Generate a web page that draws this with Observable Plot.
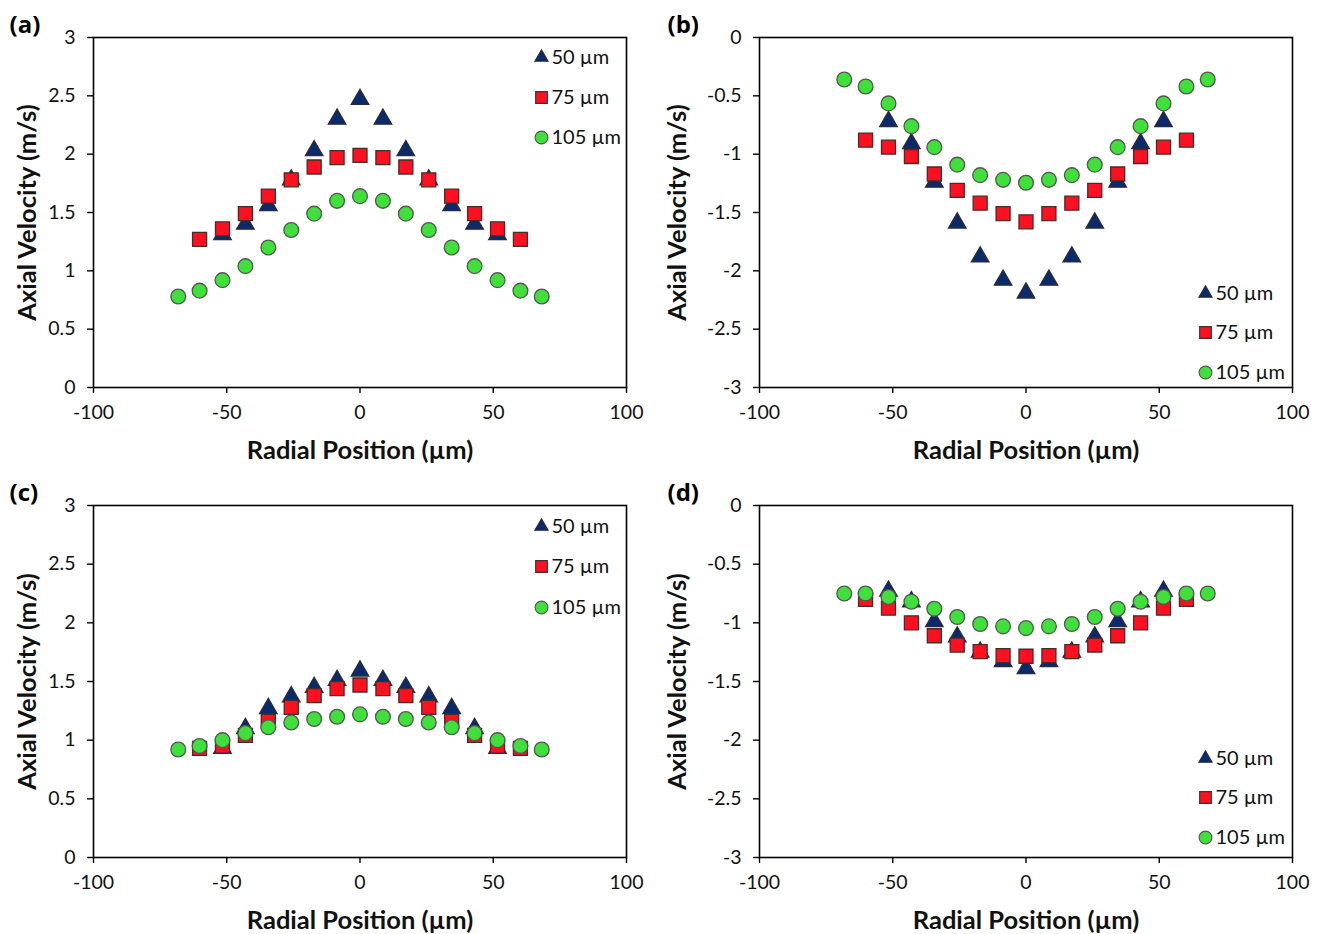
<!DOCTYPE html>
<html>
<head>
<meta charset="utf-8">
<script src="https://cdn.jsdelivr.net/npm/d3@7"></script>
<script src="https://cdn.jsdelivr.net/npm/@observablehq/plot@0.6"></script>
<style>
  html, body { margin: 0; padding: 0; background: #fff; }
  #grid { display: grid; grid-template-columns: 660px 660px; grid-template-rows: 467px 467px; width: 1320px; height: 934px; }
  #grid svg { display: block; }
</style>
</head>
<body>
<div id="grid"></div>
<script>
// Radial positions (µm) for each series
const x50  = [-51.6,-43,-34.4,-25.8,-17.2,-8.6,0,8.6,17.2,25.8,34.4,43,51.6];
const x75  = [-60.2,-51.6,-43,-34.4,-25.8,-17.2,-8.6,0,8.6,17.2,25.8,34.4,43,51.6,60.2];
const x105 = [-68.2,-60.2,-51.6,-43,-34.4,-25.8,-17.2,-8.6,0,8.6,17.2,25.8,34.4,43,51.6,60.2,68.2];

const seriesLabels = ["50 µm", "75 µm", "105 µm"];
const panelLabels = ["(a)", "(b)", "(c)", "(d)"];
const xTicks = [-100, -50, 0, 50, 100];
const yTicksPos = [0, 0.5, 1, 1.5, 2, 2.5, 3];
const yTicksNeg = [0, -0.5, -1, -1.5, -2, -2.5, -3];
const xLabel = "Radial Position (µm)";
const yLabel = "Axial Velocity (m/s)";

// Panel (a)
const a50  = [1.31,1.40,1.56,1.78,2.03,2.30,2.47,2.30,2.03,1.78,1.56,1.40,1.31];
const a75  = [1.27,1.36,1.49,1.64,1.78,1.89,1.97,1.99,1.97,1.89,1.78,1.64,1.49,1.36,1.27];
const a105 = [0.78,0.83,0.92,1.04,1.20,1.35,1.49,1.60,1.64,1.60,1.49,1.35,1.20,1.04,0.92,0.83,0.78];
// Panel (b)
const b50  = [-0.72,-0.91,-1.24,-1.59,-1.88,-2.08,-2.19,-2.08,-1.88,-1.59,-1.24,-0.91,-0.72];
const b75  = [-0.88,-0.94,-1.02,-1.17,-1.31,-1.42,-1.51,-1.58,-1.51,-1.42,-1.31,-1.17,-1.02,-0.94,-0.88];
const b105 = [-0.36,-0.42,-0.565,-0.76,-0.94,-1.09,-1.18,-1.22,-1.245,-1.22,-1.18,-1.09,-0.94,-0.76,-0.565,-0.42,-0.36];
// Panel (c)
const c50  = [0.93,1.10,1.27,1.37,1.45,1.51,1.59,1.51,1.45,1.37,1.27,1.10,0.93];
const c75  = [0.93,0.95,1.04,1.16,1.28,1.38,1.44,1.47,1.44,1.38,1.28,1.16,1.04,0.95,0.93];
const c105 = [0.92,0.95,1.00,1.06,1.11,1.15,1.18,1.20,1.22,1.20,1.18,1.15,1.11,1.06,1.00,0.95,0.92];
// Panel (d)
const d50  = [-0.73,-0.82,-0.99,-1.12,-1.25,-1.33,-1.39,-1.33,-1.25,-1.12,-0.99,-0.82,-0.73];
const d75  = [-0.80,-0.875,-1.00,-1.11,-1.19,-1.245,-1.28,-1.285,-1.28,-1.245,-1.19,-1.11,-1.00,-0.875,-0.80];
const d105 = [-0.75,-0.75,-0.78,-0.82,-0.88,-0.95,-1.01,-1.03,-1.045,-1.03,-1.01,-0.95,-0.88,-0.82,-0.78,-0.75,-0.75];

const styles = [
  {symbol: "triangle", r: 6.5, legendR: 4.9, fill: "#0b2a6b", stroke: "#2a2a3a"},
  {symbol: "square",   r: 7.9, legendR: 6.6, fill: "#ff1020", stroke: "#4a2a2a"},
  {symbol: "circle",   r: 7.4, legendR: 6.4, fill: "#3fe03a", stroke: "#555555"}
];

const FONT = "Lato, 'Open Sans', sans-serif";

function toRows(xs, ys) { return xs.map((x, i) => ({x, y: ys[i]})); }

function makePanel(cfg) {
  const series = [toRows(x50, cfg.s50), toRows(x75, cfg.s75), toRows(x105, cfg.s105)];
  const neg = cfg.neg;
  const marks = [];
  series.forEach((rows, i) => {
    const st = styles[i];
    marks.push(Plot.dot(rows, {x: "x", y: "y", symbol: () => st.symbol, r: st.r, fill: st.fill, stroke: st.stroke, strokeWidth: 1.3, fillOpacity: 1}));
  });
  // legend
  seriesLabels.forEach((lab, i) => {
    const st = styles[i];
    const anchor = cfg.legendTop ? "top-right" : "bottom-right";
    const dy = cfg.legendDy[i];
    marks.push(Plot.dot([lab], {frameAnchor: anchor, dx: cfg.legendDx, dy, symbol: () => st.symbol, r: st.legendR, fill: st.fill, stroke: st.stroke, strokeWidth: 1.1}));
    marks.push(Plot.text([lab], {frameAnchor: anchor, dx: cfg.legendDx + 10, dy: dy, text: d => d, textAnchor: "start", lineAnchor: "middle", fontSize: 20, fill: "#111", fontFamily: FONT}));
  });
  marks.push(Plot.frame({stroke: "#000", strokeWidth: 1.6}));
  marks.push(Plot.axisX({ticks: xTicks, tickSize: 6, tickPadding: 12, tickFormat: d => String(d), label: null, fontSize: 19.5, stroke: "#000", strokeWidth: 1.4, fill: "#111", fontFamily: FONT}));
  marks.push(Plot.axisY({ticks: neg ? yTicksNeg : yTicksPos, tickSize: 6, tickPadding: 12, tickFormat: d => String(d), label: null, fontSize: 19.5, stroke: "#000", strokeWidth: 1.4, fill: "#111", fontFamily: FONT}));
  marks.push(Plot.text([xLabel], {frameAnchor: "bottom", dy: 63, text: d => d, textAnchor: "middle", lineAnchor: "middle", fontSize: 25.5, fontWeight: "bold", fill: "#111", fontFamily: FONT}));
  marks.push(Plot.text([yLabel], {frameAnchor: "left", dx: cfg.yLabelDx, rotate: -90, text: d => d, textAnchor: "middle", lineAnchor: "middle", fontSize: 25.5, fontWeight: "bold", fill: "#111", fontFamily: FONT}));
  marks.push(Plot.text([cfg.label], {frameAnchor: "top-left", dx: cfg.panelDx, dy: cfg.panelDy, text: d => d, textAnchor: "start", lineAnchor: "middle", fontSize: 24, fontWeight: "bold", fill: "#000", fontFamily: "'Open Sans', sans-serif"}));

  return Plot.plot({
    width: 660,
    height: 467,
    marginTop: cfg.mt, marginBottom: cfg.mb, marginLeft: cfg.ml, marginRight: cfg.mr,
    x: {domain: [-100, 100]},
    y: {domain: neg ? [-3, 0] : [0, 3]},
    style: {background: "transparent", fontFamily: FONT, overflow: "visible"},
    marks
  });
}

const grid = document.getElementById("grid");
grid.append(
  makePanel({label: panelLabels[0], s50: a50, s75: a75, s105: a105, neg: false, mt: 37, mb: 80, ml: 93, mr: 34,
             legendTop: true, legendDx: -85, legendDy: [20, 60, 100], yLabelDx: -66, panelDx: -84, panelDy: -12}),
  makePanel({label: panelLabels[1], s50: b50, s75: b75, s105: b105, neg: true, mt: 37, mb: 80, ml: 99, mr: 28,
             legendTop: false, legendDx: -87, legendDy: [-94, -55, -15], yLabelDx: -82, panelDx: -92, panelDy: -12}),
  makePanel({label: panelLabels[2], s50: c50, s75: c75, s105: c105, neg: false, mt: 38, mb: 77, ml: 93, mr: 34,
             legendTop: true, legendDx: -85, legendDy: [21, 61, 102], yLabelDx: -66, panelDx: -84, panelDy: -12}),
  makePanel({label: panelLabels[3], s50: d50, s75: d75, s105: d105, neg: true, mt: 38, mb: 77, ml: 99, mr: 28,
             legendTop: false, legendDx: -87, legendDy: [-99, -60, -20], yLabelDx: -82, panelDx: -92, panelDy: -12})
);
</script>
</body>
</html>
